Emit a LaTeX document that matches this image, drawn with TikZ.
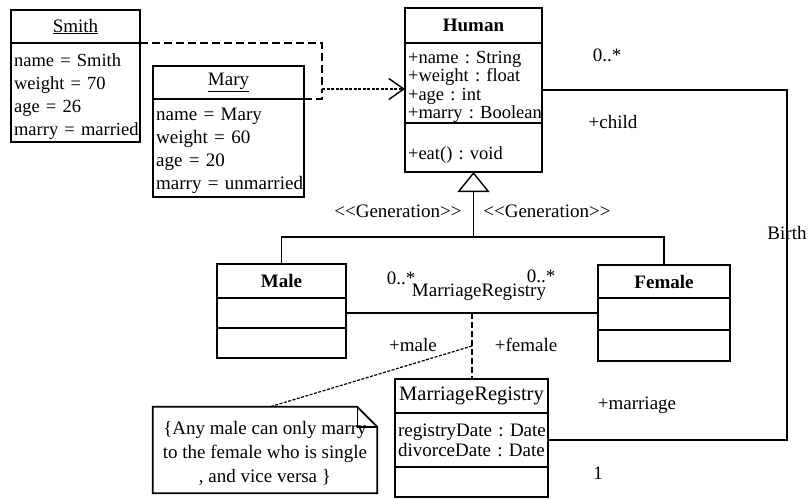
\documentclass[tikz,border=0pt]{standalone}
\usepackage{fontspec}
\setmainfont{Liberation Serif}
\usetikzlibrary{
  arrows.meta,
  calc,
  positioning
}
\tikzset{
  umlbox/.style={
    draw=black,
    line width=2.2pt,
    outer sep=0pt,
    inner xsep=2pt,
    inner ysep=0pt
  },
  headbox/.style={umlbox, align=center},
  partbox/.style={umlbox, inner xsep=0pt, align=left},
  link/.style={line width=1.4pt},
  dashlink/.style={line width=1.4pt, dash pattern=on 8pt off 4pt},
  dotlink/.style={line width=1.2pt, dash pattern=on 3pt off 1.5pt},
  inherit/.style={link, -{Triangle[open, length=20pt, width=32pt]}},
  depend/.style={
    dotlink,
    -{Straight Barb[length=15pt, width=21pt, line width=1.4pt]}
  },
  lbl/.style={inner sep=0pt}
}

\begin{document}
\frenchspacing
\begin{tikzpicture}[x=1pt, y=-1pt, font=\fontsize{19}{21}\selectfont]
  \useasboundingbox (0,0) rectangle (808,498);

  % objects
  \node[headbox, minimum width=129pt, minimum height=33pt] (smithhead)
    at (75.5,26.5) {\underline{Smith}};
  \node[partbox, minimum width=129pt, text width=129pt, minimum height=99pt,
    text height=21pt, below=0pt of smithhead,
    font=\fontsize{18.5}{23}\selectfont] (smithattr)
    {\,name = Smith\\\,weight = 70\\\,age = 26\\\mbox{\,marry = married}};

  \node[headbox, minimum width=151pt, minimum height=33pt] (maryhead)
    at (228.5,82.5) {\underline{Mary}};
  \node[partbox, minimum width=151pt, text width=151pt, minimum height=98pt,
    text height=19pt, below=0pt of maryhead,
    font=\fontsize{19}{23}\selectfont] (maryattr)
    {\,name = Mary\\\,weight = 60\\\,age = 20\\\,marry = unmarried};

  % classes
  \node[headbox, minimum width=137pt, minimum height=35pt] (humanhead)
    at (473.5,25.5) {\textbf{Human}};
  \node[partbox, minimum width=137pt, text width=137pt, minimum height=80pt,
    text height=20pt, below=0pt of humanhead,
    font=\fontsize{18.5}{18.5}\selectfont] (humanattr)
    {\,+name : String\\\,+weight : float\\\,+age : int\\\,+marry : Boolean};
  \node[partbox, minimum width=137pt, text width=137pt, minimum height=49pt,
    text height=29pt, text depth=5pt, below=0pt of humanattr,
    font=\fontsize{18.5}{18.5}\selectfont] (humanops)
    {\,+eat() : void};

  \node[headbox, minimum width=129pt, minimum height=34pt] (malehead)
    at (281.5,281) {\textbf{Male}};
  \node[partbox, minimum width=129pt, text width=129pt, minimum height=30pt,
    below=0pt of malehead] (maleattr) {};
  \node[partbox, minimum width=129pt, text width=129pt, minimum height=30pt,
    below=0pt of maleattr] (maleops) {};

  \node[headbox, minimum width=132pt, minimum height=33pt] (femalehead)
    at (664,281.5) {\textbf{Female}};
  \node[partbox, minimum width=132pt, text width=132pt, minimum height=32pt,
    below=0pt of femalehead] (femaleattr) {};
  \node[partbox, minimum width=132pt, text width=132pt, minimum height=31pt,
    below=0pt of femaleattr] (femaleops) {};

  \node[headbox, minimum width=153pt, minimum height=34pt,
    font=\fontsize{20.5}{22}\selectfont] (mreghead)
    at (471.5,396) {MarriageRegistry};
  \node[partbox, minimum width=153pt, text width=153pt, minimum height=54pt,
    below=0pt of mreghead, font=\fontsize{19}{20}\selectfont] (mregattr)
    {\,registryDate : Date\\\,divorceDate : Date};
  \node[partbox, minimum width=153pt, text width=153pt, minimum height=30pt,
    below=0pt of mregattr] (mregops) {};

  % note
  \node[align=center, minimum width=224pt, minimum height=86pt, inner sep=0pt,
    font=\fontsize{19}{24}\selectfont] (note) at (265,453)
    {\{Any male can only marry\\to the female who is single\\, and vice versa \}};
  \draw[line width=1.8pt] ([yshift=3pt]note.south west) -- ([yshift=3pt]note.north west)
    -- ([xshift=-20pt, yshift=3pt]note.north east) -- ([yshift=-17pt]note.north east)
    -- ([yshift=3pt]note.south east) -- cycle;
  \draw[line width=1.4pt] ([xshift=-20pt, yshift=3pt]note.north east)
    |- ([yshift=-17pt]note.north east);

  % dependencies
  \coordinate (depjoin) at (322,89);
  \draw[dashlink] (smithhead.south east) -| (depjoin);
  \draw[dashlink] (maryhead.south east) -| (depjoin);
  \draw[depend] (depjoin) -- (depjoin -| humanattr.west);

  % generalization
  \coordinate (genbar) at ($(humanops.south)+(0pt,-65pt)$);
  \draw[link] (malehead.north) |- (genbar) -| (femalehead.north);
  \draw[inherit] (genbar) -- (humanops.south);

  % associations
  \draw[link] (maleattr.east) -- coordinate (assoc) (maleattr.east -| femaleattr.west);
  \draw[dashlink, dash pattern=on 6pt off 3pt] (assoc)
    -- coordinate (notepin) (assoc |- mreghead.north);
  \draw[dotlink] (notepin) -- ([xshift=5pt, yshift=3pt]note.north);
  \draw[link] ([yshift=-7pt]humanattr.east) -- ++(245pt,0pt) |- (mregattr.east);

  % labels
  \node[lbl] (genleft) at (398,211) {{<}{<}Generation{>}{>}};
  \node[lbl] (genright) at (547,211) {{<}{<}Generation{>}{>}};
  \node[lbl] (maleend) at (401,278) {0..*};
  \node[lbl] (assocname) at (479,292) {MarriageRegistry};
  \node[lbl] (femaleend) at (541,276) {0..*};
  \node[lbl] (malerole) at (413,345) {+male};
  \node[lbl] (femalerole) at (526,345) {+female};
  \node[lbl] (childend) at (607,55) {0..*};
  \node[lbl] (childrole) at (613,122) {+child};
  \node[lbl] (birthname) at (787,233) {Birth};
  \node[lbl] (marriagerole) at (637,405) {+marriage};
  \node[lbl] (marriageend) at (598,473) {1};
\end{tikzpicture}
\end{document}
